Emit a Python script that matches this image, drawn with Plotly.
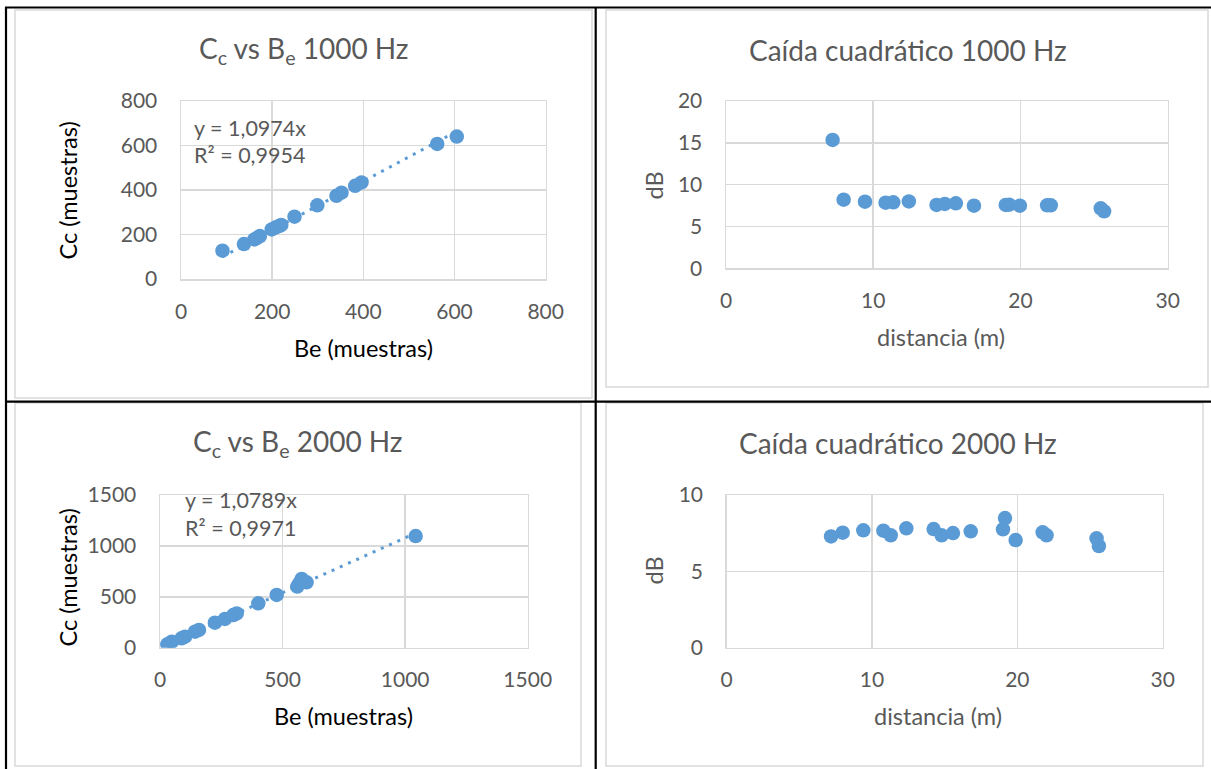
import plotly.graph_objects as go

W, H = 1211, 769

# ---------------- data ----------------
be_1000 = [91, 138, 161, 168, 173, 199, 207, 215, 220, 249, 299, 341, 352, 382, 396, 562, 605]
cc_1000 = [127, 157, 178, 186, 193, 223, 231, 238, 243, 280, 331, 374, 388, 419, 434, 607, 640]
slope_1000 = 1.0974
r2_1000 = "0,9954"

dist = [7.24, 7.99, 9.44, 10.84, 11.36, 12.42, 14.30, 14.86, 15.61, 16.84,
        19.00, 19.23, 19.96, 21.81, 22.06, 25.45, 25.68]
db_1000 = [15.34, 8.20, 7.96, 7.85, 7.89, 8.00, 7.57, 7.69, 7.77, 7.49,
           7.57, 7.60, 7.49, 7.53, 7.53, 7.17, 6.81]

be_2000 = [30, 48, 88, 102, 143, 159, 224, 265, 299, 313, 401, 476, 560, 568, 578, 598, 1043]
cc_2000 = [33, 59, 92, 108, 157, 174, 246, 282, 321, 337, 436, 518, 600, 632, 675, 642, 1097]
slope_2000 = 1.0789
r2_2000 = "0,9971"

dist_2000 = [7.18, 7.98, 9.40, 10.78, 11.29, 12.36, 14.24, 14.79, 15.57, 16.79,
             19.01, 19.15, 19.88, 21.74, 22.01, 25.45, 25.61]
db_2000 = [7.29, 7.53, 7.69, 7.66, 7.36, 7.82, 7.77, 7.36, 7.51, 7.62,
           7.75, 8.49, 7.05, 7.56, 7.36, 7.16, 6.66]

# ---------------- style ----------------
BLUE = "#5B9BD5"
GRID = "#D9D9D9"
GRAY = "#595959"
FONT = "Lato"


def px(x):
    return x / W


def py(y):
    return 1 - y / H


fig = go.Figure()

# plot areas in pixels (left, right, top, bottom)
areas = {
    1: (181, 545.7, 101, 279),
    2: (726, 1167.7, 101, 268.3),
    3: (160, 527.7, 495, 647.7),
    4: (726.7, 1162.7, 495, 647.7),
}


def add_scatter(n, xs, ys):
    suffix = "" if n == 1 else str(n)
    fig.add_trace(go.Scatter(x=xs, y=ys, mode="markers",
                             marker=dict(size=14.5, color=BLUE),
                             xaxis="x" + suffix, yaxis="y" + suffix,
                             showlegend=False, hoverinfo="skip"))


def add_trend(n, xs, slope):
    suffix = "" if n == 1 else str(n)
    x0, x1 = min(xs), max(xs)
    fig.add_trace(go.Scatter(x=[x0, x1], y=[slope * x0, slope * x1], mode="lines",
                             line=dict(color=BLUE, width=3, dash="3px,6px"),
                             xaxis="x" + suffix, yaxis="y" + suffix,
                             showlegend=False, hoverinfo="skip"))


add_trend(1, be_1000, slope_1000)
add_scatter(1, be_1000, cc_1000)
add_scatter(2, dist, db_1000)
add_trend(3, be_2000, slope_2000)
add_scatter(3, be_2000, cc_2000)
add_scatter(4, dist_2000, db_2000)

ranges = {
    1: ([0, 800], 200, [0, 800], 200),
    2: ([0, 30], 10, [0, 20], 5),
    3: ([0, 1500], 500, [0, 1500], 500),
    4: ([0, 30], 10, [0, 10], 5),
}

layout = dict(
    width=W, height=H, margin=dict(l=0, r=0, t=0, b=0, autoexpand=False),
    paper_bgcolor="white", plot_bgcolor="white",
    font=dict(family=FONT, color=GRAY),
    showlegend=False,
)

for n, (l, r, t, b) in areas.items():
    suffix = "" if n == 1 else str(n)
    xr, dx, yr, dy = ranges[n]
    layout["xaxis" + suffix] = dict(
        domain=[px(l), px(r)], range=xr, dtick=dx, tick0=0, automargin=False,
        anchor="y" + suffix, showgrid=True, gridcolor=GRID, gridwidth=1.5,
        showline=True, linecolor=GRID, linewidth=1.5, mirror=True,
        zeroline=False, ticks="outside", ticklen=13, tickcolor="rgba(0,0,0,0)",
        tickfont=dict(family=FONT, size=21, color=GRAY), fixedrange=True,
    )
    layout["yaxis" + suffix] = dict(
        domain=[py(b), py(t)], range=yr, dtick=dy, tick0=0, automargin=False,
        anchor="x" + suffix, showgrid=True, gridcolor=GRID, gridwidth=1.5,
        showline=True, linecolor=GRID, linewidth=1.5, mirror=True,
        zeroline=False, ticks="outside", ticklen=18, tickcolor="rgba(0,0,0,0)",
        tickfont=dict(family=FONT, size=21, color=GRAY), fixedrange=True,
    )

fig.update_layout(**layout)

# ---------------- texts ----------------
ann = []


def text(x, y, s, size, color=GRAY, angle=0, xanchor="center"):
    ann.append(dict(x=px(x), y=py(y), xref="paper", yref="paper", text=s,
                    showarrow=False, xanchor=xanchor, yanchor="middle",
                    textangle=angle, font=dict(family=FONT, size=size, color=color)))


text(303.5, 50, "C<sub>c</sub> vs B<sub>e</sub> 1000 Hz", 28)
text(907.5, 50, "Caída cuadrático 1000 Hz", 28)
text(297.6, 443, "C<sub>c</sub> vs B<sub>e</sub> 2000 Hz", 28)
text(898, 443, "Caída cuadrático 2000 Hz", 28)

text(363, 348, "Be (muestras)", 23.5, color="#000000")
text(67, 190.5, "Cc (muestras)", 23.5, color="#000000", angle=-90)
text(343.6, 716, "Be (muestras)", 23.5, color="#000000")
text(67, 577.5, "Cc (muestras)", 23.5, color="#000000", angle=-90)

text(940.6, 337, "distancia (m)", 23.5)
text(653.6, 186, "dB", 23.5, angle=-90)
text(937.8, 716, "distancia (m)", 23.5)
text(653.6, 571, "dB", 23.5, angle=-90)

text(191.7, 128, "y = " + str(slope_1000).replace(".", ",") + "x", 21.5, xanchor="left")
text(191.7, 155, "R² = " + r2_1000, 21.5, xanchor="left")
text(183.3, 500, "y = " + str(slope_2000).replace(".", ",") + "x", 21.5, xanchor="left")
text(183.3, 528.3, "R² = " + r2_2000, 21.5, xanchor="left")

fig.update_layout(annotations=ann)

# ---------------- frames ----------------
shapes = []


def rect(x0, y0, x1, y1, color, width):
    shapes.append(dict(type="rect", xref="paper", yref="paper",
                       x0=px(x0), x1=px(x1), y0=py(y1), y1=py(y0),
                       line=dict(color=color, width=width), fillcolor="rgba(0,0,0,0)",
                       layer="below"))


def line(x0, y0, x1, y1, color, width):
    shapes.append(dict(type="line", xref="paper", yref="paper",
                       x0=px(x0), x1=px(x1), y0=py(y0), y1=py(y1),
                       line=dict(color=color, width=width)))


rect(15, 10, 592, 398, GRID, 1.5)
rect(606, 10, 1208, 387, GRID, 1.5)
rect(15, 403, 581, 766, GRID, 1.5)
rect(606, 403, 1203, 766, GRID, 1.5)

line(5, 7.5, 1211, 7.5, "#000000", 2.2)
line(6, 7, 6, 769, "#000000", 2.2)
line(595.7, 7, 595.7, 769, "#000000", 2.2)
line(5, 401.7, 1211, 401.7, "#000000", 2.2)

fig.update_layout(shapes=shapes)

fig.write_html(
    "out.html",
    config={"displayModeBar": False, "staticPlot": True},
    post_script="document.body.style.margin='0px';document.body.style.overflow='hidden';",
)
